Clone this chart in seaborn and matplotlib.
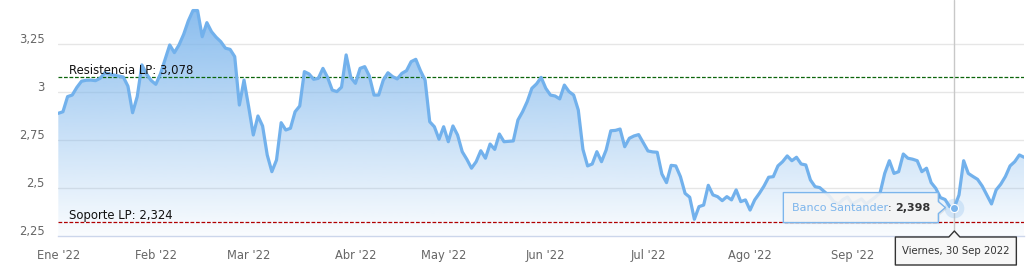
import numpy as np
import pandas as pd
import matplotlib
matplotlib.use("Agg")
import matplotlib.pyplot as plt
import matplotlib.transforms as mtransforms
from matplotlib.colors import to_rgb
from matplotlib.patches import PathPatch, Polygon
import seaborn as sns

# ---------------- data ----------------
series_name = "Banco Santander"
prices = [
    # Ene
    2.889, 2.897, 2.976, 2.984, 3.024, 3.056, 3.061, 3.062, 3.059, 3.071, 3.100,
    3.094, 3.088, 3.083, 3.078, 3.030, 2.892, 2.976, 3.141, 3.094, 3.060,
    # Feb
    3.040, 3.094, 3.170, 3.245, 3.205, 3.245, 3.300, 3.370, 3.424, 3.424,
    3.288, 3.361, 3.314, 3.285, 3.262, 3.228, 3.222, 3.184, 2.932, 3.062,
    # Mar
    2.923, 2.776, 2.875, 2.823, 2.672, 2.585, 2.646, 2.840, 2.802, 2.811, 2.897,
    2.927, 3.106, 3.094, 3.066, 3.071, 3.123, 3.076, 3.010, 3.002, 3.025, 3.193, 3.076,
    # Abr
    3.045, 3.123, 3.132, 3.083, 2.984, 2.984, 3.062, 3.100, 3.080, 3.068,
    3.097, 3.111, 3.158, 3.170, 3.111, 3.062, 2.845, 2.819, 2.754,
    # May
    2.819, 2.741, 2.823, 2.776, 2.689, 2.649, 2.603, 2.637, 2.694, 2.655, 2.729,
    2.701, 2.781, 2.741, 2.743, 2.745, 2.854, 2.897, 2.950, 3.019, 3.042, 3.076,
    # Jun
    3.019, 2.984, 2.979, 2.964, 3.036, 3.002, 2.984, 2.906, 2.701, 2.615, 2.625,
    2.689, 2.637, 2.698, 2.798, 2.800, 2.807, 2.715, 2.759, 2.771, 2.778, 2.736,
    # Jul
    2.693, 2.688, 2.686, 2.573, 2.528, 2.618, 2.615, 2.559, 2.472, 2.452, 2.337,
    2.403, 2.411, 2.514, 2.464, 2.455, 2.434, 2.455, 2.438, 2.490, 2.429, 2.438,
    # Ago
    2.385, 2.438, 2.472, 2.510, 2.556, 2.559, 2.615, 2.637, 2.667, 2.642, 2.660,
    2.625, 2.620, 2.542, 2.507, 2.502, 2.481, 2.460, 2.430, 2.417, 2.440, 2.453,
    # Sep
    2.417, 2.430, 2.443, 2.417, 2.435, 2.453, 2.474, 2.576, 2.642, 2.576, 2.585,
    2.677, 2.655, 2.650, 2.642, 2.585, 2.603, 2.528, 2.498, 2.450, 2.440, 2.403, 2.398,
    # Oct
    2.464, 2.642, 2.576, 2.560, 2.545, 2.510, 2.464, 2.417, 2.490, 2.520, 2.560,
    2.615, 2.637, 2.672, 2.660,
]
# the "Oct '22" label is hidden behind the date tooltip in the reference
month_labels = ["Ene '22", "Feb '22", "Mar '22", "Abr '22", "May '22",
                "Jun '22", "Jul '22", "Ago '22", "Sep '22", ""]
month_start_day = [0, 21, 41, 64, 83, 105, 127, 149, 171, 194]
y_ticks = [2.25, 2.5, 2.75, 3.0, 3.25]
y_tick_labels = ["2,25", "2,5", "2,75", "3", "3,25"]
resistance = 3.078
support = 2.324
resistance_label = "Resistencia LP: 3,078"
support_label = "Soporte LP: 2,324"
hover_day = 193
hover_value_label = "2,398"
hover_date_label = "Viernes, 30 Sep 2022"

df = pd.DataFrame({"day": np.arange(len(prices)), "price": prices})

# ---------------- style ----------------
sns.set_style("white")
plt.rcParams['font.family'] = ['DejaVu Sans']

W, H = 1035, 272
fig = plt.figure(figsize=(W / 100, H / 100), dpi=100)
ax = fig.add_axes([58.3 / W, (H - 236) / H, (1024 - 58.3) / W, 236 / H])

line_color = "#72b1ec"
N = len(prices)
y_min, y_max = 2.25, 3.479

# gradient fill under the line
rgba = np.zeros((256, 1, 4))
rgba[..., :3] = to_rgb("#7cb5ec")
rgba[..., 3] = np.linspace(0.92, 0.04, 256).reshape(-1, 1)
im = ax.imshow(rgba, aspect="auto", extent=[0, N - 1, y_min, y_max],
               origin="upper", zorder=1, interpolation="bilinear")
fb = ax.fill_between(df["day"], df["price"], y_min, facecolor="none", edgecolor="none")
clip = PathPatch(fb.get_paths()[0], transform=ax.transData,
                 facecolor="none", edgecolor="none")
ax.add_patch(clip)
im.set_clip_path(clip)

# grid lines
for yv in y_ticks[1:]:
    ax.axhline(yv, color="#e6e6e6", lw=1, zorder=0.5)

# main line
sns.lineplot(data=df, x="day", y="price", color=line_color, lw=2.3, ax=ax,
             zorder=4, solid_joinstyle="round")

ax.set_xlim(0, N - 1)
ax.set_ylim(y_min, y_max)
ax.set_xlabel("")
ax.set_ylabel("")

# reference lines
ax.axhline(resistance, color="#0b650b", lw=0.9, ls=(0, (3, 1.4)), zorder=3)
ax.axhline(support, color="#b00000", lw=0.9, ls=(0, (3, 1.4)), zorder=3)
ax.annotate(resistance_label, xy=(0, resistance), xycoords=("axes fraction", "data"),
            xytext=(11, 3), textcoords="offset pixels", ha="left", va="baseline",
            fontsize=8.4, color="#111111", zorder=5)
ax.annotate(support_label, xy=(0, support), xycoords=("axes fraction", "data"),
            xytext=(11, 3), textcoords="offset pixels", ha="left", va="baseline",
            fontsize=8.4, color="#111111", zorder=5)

# spines & ticks
for s in ["top", "right", "left"]:
    ax.spines[s].set_visible(False)
ax.spines["bottom"].set_color("#ccd6eb")
ax.spines["bottom"].set_linewidth(1)
ax.set_xticks(month_start_day, month_labels)
ax.tick_params(axis="x", length=8, width=1, color="#ccd6eb", labelcolor="#666666",
               labelsize=8.3, pad=1.5)
ax.set_yticks(y_ticks, y_tick_labels)
ax.tick_params(axis="y", length=0, pad=10, labelcolor="#666666", labelsize=8.3)
offset = mtransforms.ScaledTranslation(0, 0.06, fig.dpi_scale_trans)
for lab in ax.get_yticklabels():
    lab.set_transform(lab.get_transform() + offset)

# crosshair + hover marker
hover_price = prices[hover_day]
ax.axvline(hover_day, color="#c8c8c8", lw=1, zorder=3.5, clip_on=False)
ax.scatter([hover_day], [hover_price], s=200, color="#7cb5ec", alpha=0.25,
           zorder=6, linewidths=0)
ax.scatter([hover_day], [hover_price], s=34, color="#7cb5ec", zorder=7,
           edgecolors="white", linewidths=0.8)

# ---------------- tooltips (display pixels) ----------------
fig.canvas.draw()
px, py = ax.transData.transform((hover_day, hover_price))
ident = mtransforms.IdentityTransform()

# series tooltip (left of point)
bl, br = px - 171, px - 16
bt, bb = py + 15, py - 15
shadow = Polygon([(bl + 1.5, bt - 1.5), (br + 1.5, bt - 1.5), (br + 1.5, py + 4.5),
                  (br + 8.5, py - 1.5), (br + 1.5, py - 7.5), (br + 1.5, bb - 1.5),
                  (bl + 1.5, bb - 1.5)], closed=True, transform=ident,
                 facecolor="black", alpha=0.08, edgecolor="none", zorder=8)
fig.add_artist(shadow)
tip = Polygon([(bl, bt), (br, bt), (br, py + 6), (br + 7, py), (br, py - 6),
               (br, bb), (bl, bb)], closed=True, transform=ident,
              facecolor=(0.97, 0.97, 0.97, 0.88), edgecolor="#7cb5ec", lw=1,
              joinstyle="round", zorder=9)
fig.add_artist(tip)
renderer = fig.canvas.get_renderer()
t1 = fig.text(bl + 9, py, series_name, transform=ident, fontsize=8.0,
              color="#7cb5ec", va="center", ha="left", zorder=10)
x_cur = t1.get_window_extent(renderer).x1
t2 = fig.text(x_cur, py, ": ", transform=ident, fontsize=8.0,
              color="#333333", va="center", ha="left", zorder=10)
x_cur = t2.get_window_extent(renderer).x1
fig.text(x_cur, py, hover_value_label, transform=ident, fontsize=8.0,
         color="#333333", va="center", ha="left", fontweight="bold", zorder=10)

# date tooltip on x axis
ax_bottom = ax.transAxes.transform((0, 0))[1]
dl, dr = px - 59, px + 62
dt, db = ax_bottom - 1, ax_bottom - 29
date_box = Polygon([(dl, dt), (px - 5.5, dt), (px, dt + 6), (px + 5.5, dt), (dr, dt),
                    (dr, db), (dl, db)], closed=True, transform=ident,
                   facecolor=(0.97, 0.97, 0.97, 0.95), edgecolor="#333333", lw=1,
                   joinstyle="round", zorder=9)
fig.add_artist(date_box)
fig.text((dl + dr) / 2, (dt + db) / 2, hover_date_label, transform=ident,
         fontsize=7.3, color="#333333", va="center", ha="center", zorder=10)

fig.savefig("out.png", dpi=100)
